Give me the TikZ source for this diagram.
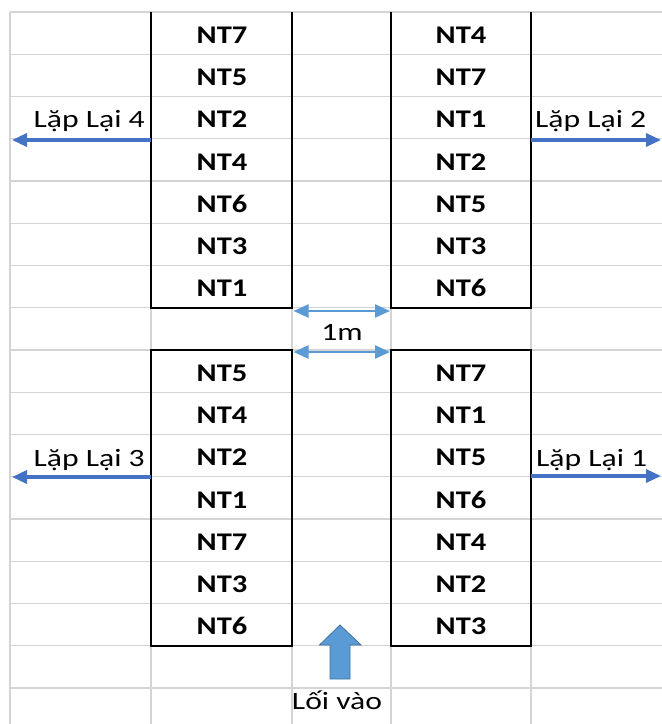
\documentclass[tikz,border=0pt]{standalone}
\usepackage{fontspec}
\setmainfont{Carlito}
\newfontfamily\cellfont{Carlito}[FakeStretch=1.2]
\newfontfamily\lblfont{Carlito}[FakeStretch=1.27]
\usetikzlibrary{arrows.meta}
\definecolor{gridgray}{HTML}{D4D4D4}
\definecolor{repblue}{HTML}{4472C4}
\definecolor{gapblue}{HTML}{5B9BD5}
\definecolor{gapedge}{HTML}{41719C}
\begin{document}
\begin{tikzpicture}[x=1bp,y=-1bp,
  gridline/.style={draw=gridgray, line width=1.4bp},
  bed/.style={draw=black, line width=1.6bp},
  cell/.style={font=\cellfont\bfseries\fontsize{25.5}{30}\selectfont, anchor=base, inner sep=0pt},
  lbl/.style={font=\lblfont\fontsize{25}{30}\selectfont, anchor=base, inner sep=0pt},
  repeatarrow/.style={draw=repblue, line width=3.4bp, -{Triangle[length=15bp,width=13bp]}},
  gaparrow/.style={draw=gapblue, line width=2.4bp,
    {Triangle[length=15bp,width=13bp]}-{Triangle[length=15bp,width=13bp]}},
  entry/.style={fill=gapblue, draw=gapedge, line width=0.8bp}
]
\useasboundingbox (0,0) rectangle (662,724);

% spreadsheet grid
\foreach \k in {0,...,16}
  \draw[gridline] (10,{12+42.25*\k}) -- (662,{12+42.25*\k});
\foreach \x in {10,151,292,391,531}
  \draw[gridline] (\x,12) -- (\x,724);

% bed outlines
\draw[bed] (151,12) -- (151,307.75) -- (292,307.75) -- (292,12);
\draw[bed] (391,12) -- (391,307.75) -- (531,307.75) -- (531,12);
\draw[bed] (151,350) rectangle (292,645.75);
\draw[bed] (391,350) rectangle (531,645.75);

% treatments, one per row
\foreach \t [count=\i from 0] in {NT7,NT5,NT2,NT4,NT6,NT3,NT1}
  \node[cell] (tl\i) at (222,{12+42.25*(\i+1)-11}) {\t};
\foreach \t [count=\i from 0] in {NT4,NT7,NT1,NT2,NT5,NT3,NT6}
  \node[cell] (tr\i) at (461,{12+42.25*(\i+1)-11}) {\t};
\foreach \t [count=\i from 8] in {NT5,NT4,NT2,NT1,NT7,NT3,NT6}
  \node[cell] (bl\i) at (222,{12+42.25*(\i+1)-11}) {\t};
\foreach \t [count=\i from 8] in {NT7,NT1,NT5,NT6,NT4,NT2,NT3}
  \node[cell] (br\i) at (461,{12+42.25*(\i+1)-11}) {\t};

% repetition arrows
\coordinate (tlW) at (151,140);   \coordinate (out4) at (12,140);
\coordinate (trE) at (531,140);   \coordinate (out2) at (661,140);
\coordinate (blW) at (151,477);   \coordinate (out3) at (12,477);
\coordinate (brE) at (531,476);   \coordinate (out1) at (661,476);
\draw[repeatarrow] (tlW) -- (out4);
\draw[repeatarrow] (trE) -- (out2);
\draw[repeatarrow] (blW) -- (out3);
\draw[repeatarrow] (brE) -- (out1);
\node[lbl, anchor=base east] (rep4) at (145,128) {Lặp Lại 4};
\node[lbl, anchor=base west] (rep2) at (535,128) {Lặp Lại 2};
\node[lbl, anchor=base east] (rep3) at (145,466) {Lặp Lại 3};
\node[lbl, anchor=base west] (rep1) at (536,466) {Lặp Lại 1};

% 1 m spacing between beds
\coordinate (gapTL) at (293.5,311); \coordinate (gapTR) at (390,311);
\coordinate (gapBL) at (293.5,352); \coordinate (gapBR) at (390,352);
\draw[gaparrow] (gapTL) -- (gapTR);
\draw[gaparrow] (gapBL) -- (gapBR);
\node[lbl] (gap) at (342,340) {1m};

% entrance
\draw[entry] (340,625) -- (361,645) -- (350,645) -- (350,679) -- (330,679)
  -- (330,645) -- (319.5,645) -- cycle;
\node[lbl] (entrance) at (337,709) {Lối vào};
\end{tikzpicture}
\end{document}
